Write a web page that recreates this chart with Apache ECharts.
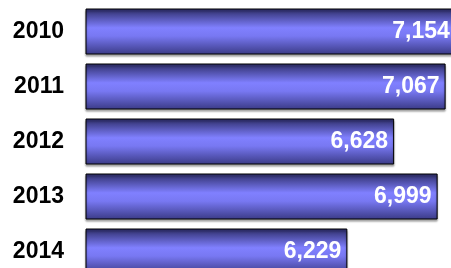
<!DOCTYPE html>
<html>
<head>
<meta charset="utf-8">
<script src="https://cdn.jsdelivr.net/npm/echarts@6/dist/echarts.min.js"></script>
<style>
  html, body { margin: 0; padding: 0; background: #fff; }
  #chart { width: 451px; height: 268px; }
</style>
</head>
<body>
<div id="chart"></div>
<script>
var years = ['2010', '2011', '2012', '2013', '2014'];
var values = [7154, 7067, 6628, 6999, 6229];

var myChart = echarts.init(document.getElementById('chart'), null, {renderer: 'canvas'});

var barColor = new echarts.graphic.LinearGradient(0, 0, 0, 1, [
    {offset: 0, color: '#2c2c68'},
    {offset: 0.42, color: '#8080ff'},
    {offset: 0.6, color: '#7878f2'},
    {offset: 1, color: '#3a3a86'}
]);

option = {
    animation: false,
    grid: {
        left: 86,
        top: 4,
        width: 469,   // chart is cropped, the 2010 bar runs past the edge
        height: 275,
        containLabel: false,
        outerBoundsMode: 'none'
    },
    xAxis: {
        type: 'value',
        min: 4000,
        max: 8000,
        show: false
    },
    yAxis: {
        type: 'category',
        data: years,
        inverse: true,
        axisLine: {show: false},
        axisTick: {show: false},
        axisLabel: {
            margin: 22,
            color: '#000',
            fontSize: 23,
            fontWeight: 'bold',
            fontFamily: 'Liberation Sans'
        }
    },
    series: [{
        type: 'bar',
        data: values,
        barWidth: 46,
        itemStyle: {
            color: barColor,
            borderColor: '#000',
            borderWidth: 1,
            shadowColor: 'rgba(0,0,0,0.35)',
            shadowBlur: 2,
            shadowOffsetX: 0,
            shadowOffsetY: 2
        },
        label: {
            show: true,
            position: 'insideRight',
            distance: 6,
            color: '#fff',
            fontSize: 23,
            fontWeight: 'bold',
            fontFamily: 'Liberation Sans',
            formatter: function (p) {
                return String(p.value).replace(/\B(?=(\d{3})+(?!\d))/g, ',');
            }
        }
    }]
};

myChart.setOption(option);
</script>
</body>
</html>
